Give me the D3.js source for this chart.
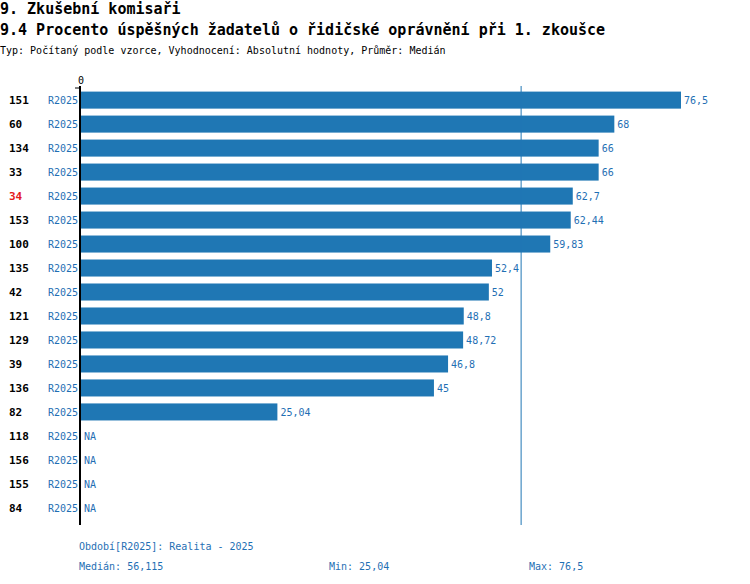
<!DOCTYPE html>
<html><head><meta charset="UTF-8">
<script src="https://d3js.org/d3.v7.min.js"></script>
<style>body{margin:0;background:#fff}text{font-family:"DejaVu Sans Mono",monospace}</style>
</head><body><svg width="750" height="584"></svg>
<script>
const ids = ["151","60","134","33","34","153","100","135","42","121","129","39","136","82","118","156","155","84"];
const values = [76.5,68,66,66,62.7,62.44,59.83,52.4,52,48.8,48.72,46.8,45,25.04,null,null,null,null];
const labels = ["76,5","68","66","66","62,7","62,44","59,83","52,4","52","48,8","48,72","46,8","45","25,04","NA","NA","NA","NA"];
const highlight = "34";
const median = 56.115;
const blue = "#1f77b4", textBlue = "#1f6fb4";

const svg = d3.select("svg");
svg.append("text").attr("x",0).attr("y",14).attr("font-size",15).attr("font-weight","bold").text("9. Zkušební komisaři");
svg.append("text").attr("x",0).attr("y",35).attr("font-size",15).attr("font-weight","bold").text("9.4 Procento úspěšných žadatelů o řidičské oprávnění při 1. zkoušce");
svg.append("text").attr("x",0).attr("y",54).attr("font-size",10).text("Typ: Počítaný podle vzorce, Vyhodnocení: Absolutní hodnoty, Průměr: Medián");

const x = d3.scaleLinear().domain([0,76.5]).range([81,681]);
const y = d3.scaleBand().domain(ids).range([88,520]).paddingInner(0.29).paddingOuter(0.15);

svg.append("text").attr("x",x(0)).attr("y",84).attr("font-size",10).attr("text-anchor","middle").text("0");

ids.forEach((id,i)=>{
  const yc = y(id)+y.bandwidth()/2;
  svg.append("text").attr("x",9).attr("y",yc+4).attr("font-size",11).attr("font-weight","bold")
    .attr("fill", id===highlight?"#e41a1c":"#000").text(id);
  svg.append("text").attr("x",78).attr("y",yc+4).attr("font-size",10).attr("text-anchor","end").attr("fill",textBlue).text("R2025");
  const v = values[i];
  if (v!=null) svg.append("rect").attr("x",x(0)).attr("y",y(id)).attr("width",x(v)-x(0)).attr("height",y.bandwidth()).attr("fill",blue);
  svg.append("text").attr("x",(v==null?x(0):x(v))+3).attr("y",yc+4).attr("font-size",10).attr("fill",textBlue).text(labels[i]);
});

svg.append("line").attr("x1",x(median)).attr("x2",x(median)).attr("y1",86).attr("y2",525).attr("stroke",blue).attr("stroke-width",1);
svg.append("line").attr("x1",80).attr("x2",80).attr("y1",86).attr("y2",525).attr("stroke","#000").attr("stroke-width",2);
svg.append("line").attr("x1",75).attr("x2",81).attr("y1",88).attr("y2",88).attr("stroke","#000").attr("stroke-width",1);

const foot = [[79,550,"Období[R2025]: Realita - 2025"],[79,570,"Medián: 56,115"],[329,570,"Min: 25,04"],[529,570,"Max: 76,5"]];
foot.forEach(f=>svg.append("text").attr("x",f[0]).attr("y",f[1]).attr("font-size",10).attr("fill",textBlue).text(f[2]));
</script></body></html>
